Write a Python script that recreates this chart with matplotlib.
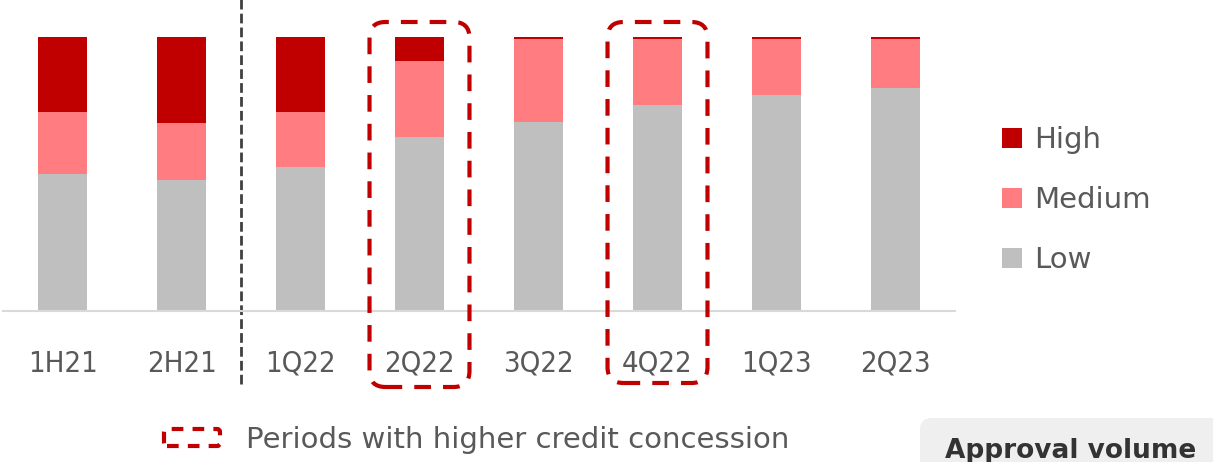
import matplotlib
matplotlib.use("Agg")
import matplotlib.pyplot as plt
from matplotlib.patches import FancyBboxPatch
from matplotlib.transforms import IdentityTransform

periods = ["1H21", "2H21", "1Q22", "2Q22", "3Q22", "4Q22", "1Q23", "2Q23"]
low = [50.2, 47.9, 52.6, 63.6, 68.9, 75.3, 78.9, 81.4]
medium = [22.5, 20.9, 20.1, 27.7, 30.3, 23.9, 20.3, 17.8]
high = [27.3, 31.2, 27.3, 8.7, 0.8, 0.8, 0.8, 0.8]
highlighted = ["2Q22", "4Q22"]

RED = "#C00000"
PINK = "#FF7C80"
GREY = "#BFBFBF"
TXT = "#595959"
FONT = "DejaVu Sans"

W, H = 1213, 462
fig = plt.figure(figsize=(W / 100, H / 100), dpi=100)
ax = fig.add_axes([3 / W, (H - 311) / H, 952 / W, (311 - 37.3) / H])

x = range(len(periods))
b_low = ax.bar(x, low, width=0.41, color=GREY, label="Low")
b_med = ax.bar(x, medium, width=0.41, bottom=low, color=PINK, label="Medium")
bottoms = [l + m for l, m in zip(low, medium)]
b_high = ax.bar(x, high, width=0.41, bottom=bottoms, color=RED, label="High")

ax.set_xlim(-0.5, len(periods) - 0.5)
ax.set_ylim(0, 100)
ax.set_yticks([])
ax.set_xticks(list(x))
ax.set_xticklabels(periods, fontsize=21, color=TXT, family=FONT, fontstretch="condensed")
ax.tick_params(axis="x", length=0, pad=28)
for s in ["top", "left", "right"]:
    ax.spines[s].set_visible(False)
ax.spines["bottom"].set_color("#D9D9D9")
ax.spines["bottom"].set_linewidth(1.5)

# separator between half-years and quarters
ax.axvline(1.5, ymin=-0.265, ymax=1.14, color="#404040", lw=2,
           linestyle=(0, (3.5, 1.5)), clip_on=False)

# dashed rounded boxes around highlighted periods (pixel coords from top)
fig.canvas.draw()
box_y = {"2Q22": (22, 387), "4Q22": (22, 383)}
for p in highlighted:
    i = periods.index(p)
    x0 = ax.transData.transform((i - 0.42, 0))[0]
    x1 = ax.transData.transform((i + 0.42, 0))[0]
    top, bot = box_y[p]
    patch = FancyBboxPatch((x0, H - bot), x1 - x0, bot - top,
                           boxstyle="round,pad=0,rounding_size=16",
                           fill=False, edgecolor=RED, lw=3,
                           linestyle=(0, (4.0, 2.9)), transform=IdentityTransform())
    fig.add_artist(patch)

leg = ax.legend(handles=[b_high, b_med, b_low], loc="center left",
                bbox_to_anchor=(1002 / W, (H - 200) / H), bbox_transform=fig.transFigure,
                frameon=False, borderpad=0, borderaxespad=0, handlelength=0.68,
                handleheight=0.68, handletextpad=0.41, labelspacing=1.09,
                prop={"family": FONT, "size": 21})
for t in leg.get_texts():
    t.set_color(TXT)

# legend for dashed boxes
icon = FancyBboxPatch((164, H - 446), 56, 17, boxstyle="round,pad=0,rounding_size=3",
                      fill=False, edgecolor=RED, lw=3, linestyle=(0, (2.8, 2.2)),
                      transform=IdentityTransform())
fig.add_artist(icon)
fig.text(246 / W, (H - 448) / H, "Periods with higher credit concession",
         fontsize=21, color=TXT, family=FONT, va="baseline", ha="left")

# approval volume tab
tab = FancyBboxPatch((920, H - 480), 320, 62, boxstyle="round,pad=0,rounding_size=12",
                     facecolor="#EFEFEF", edgecolor="none", transform=IdentityTransform())
fig.add_artist(tab)
fig.text(1071 / W, (H - 458) / H, "Approval volume", fontsize=19, color="#333333",
         family=FONT, fontweight="bold", va="baseline", ha="center")

fig.savefig("out.png", dpi=100)
